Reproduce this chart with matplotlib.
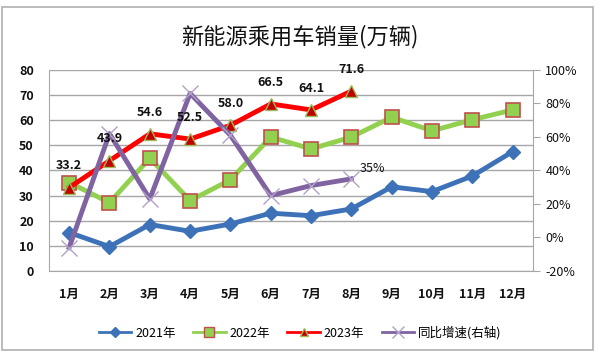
import matplotlib.pyplot as plt
from matplotlib.patches import Rectangle
from matplotlib.lines import Line2D
from matplotlib.ticker import FuncFormatter

plt.rcParams['font.family'] = ['Noto Sans CJK SC', 'DejaVu Sans']

# data
months = ['1月', '2月', '3月', '4月', '5月', '6月', '7月', '8月', '9月', '10月', '11月', '12月']
sales_2021 = [15.3, 9.7, 18.5, 15.8, 18.7, 23.0, 22.0, 24.7, 33.5, 31.6, 37.8, 47.5]
sales_2022 = [35.2, 27.2, 44.9, 28.0, 36.3, 53.3, 48.6, 53.3, 61.2, 55.8, 60.2, 64.1]
sales_2023 = [33.2, 43.9, 54.6, 52.5, 58.0, 66.5, 64.1, 71.6]
yoy = [-6, 62, 23, 86, 61, 25, 31, 35]

x = list(range(1, 13))
x23 = x[:len(sales_2023)]

fig = plt.figure(figsize=(6, 3.56), dpi=100)
fig.patches.append(Rectangle((0.004, 0.017), 0.985, 0.963, transform=fig.transFigure,
                             fill=False, edgecolor='#b0b0b0', linewidth=1.2))

ax1 = fig.add_axes([0.0817, 0.2388, 0.8063, 0.5646])
ax1.plot(x, sales_2021, color='#3d72b8', lw=3.5, marker='D', ms=7,
         mfc='#3d72b8', mec='#3d72b8', zorder=3)
ax1.plot(x, sales_2022, color='#92d050', lw=3.5, marker='s', ms=10,
         mfc='#92d050', mec='#c0504d', mew=1.2, zorder=3)
ax1.plot(x23, sales_2023, color='#ff0000', lw=3.5, marker='^', ms=9,
         mfc='#c00000', mec='#9bbb59', mew=1.0, zorder=4)

ax1.set_xlim(0.5, 12.5)
ax1.set_ylim(0, 80)
ax1.set_yticks(range(0, 81, 10))
ax1.set_xticks(x)
ax1.set_xticklabels(months)
ax1.grid(axis='y', color='#a6a6a6', lw=1.0)
ax1.set_axisbelow(True)
for s in ['top', 'right']:
    ax1.spines[s].set_visible(False)
for s in ['left', 'bottom']:
    ax1.spines[s].set_color('#a6a6a6')
ax1.tick_params(axis='y', length=0, labelsize=9, colors='#111111', pad=11)
ax1.tick_params(axis='x', length=0, labelsize=9, colors='#111111', pad=12)
for lab in ax1.get_xticklabels() + ax1.get_yticklabels():
    lab.set_fontweight('bold')

ax2 = ax1.twinx()
ax2.plot(x23, yoy, color='#8064a2', lw=3.5, marker='x', ms=12, mew=1.0,
         mec='#b3a2c7', zorder=5)
ax2.annotate(f'{yoy[-1]}%', (x23[-1], yoy[-1]), xytext=(6, 3), textcoords='offset points',
             ha='left', va='bottom', fontsize=9, color='#111111')
# 2023 labels drawn on top of everything
for xi, v in zip(x23, sales_2023):
    ax2.annotate(f'{v:.1f}', (xi, v), xycoords=ax1.transData, xytext=(0, 11),
                 textcoords='offset points', ha='center', va='bottom',
                 fontsize=9, fontweight='bold', color='#111111', zorder=6)
ax2.set_ylim(-20, 100)
ax2.set_yticks(range(-20, 101, 20))
ax2.yaxis.set_major_formatter(FuncFormatter(lambda v, p: f'{v:.0f}%'))
for s in ['top', 'left', 'bottom']:
    ax2.spines[s].set_visible(False)
ax2.spines['right'].set_color('#a6a6a6')
ax2.tick_params(axis='y', length=5, color='#a6a6a6', labelsize=9, colors='#111111', pad=4)
ax2.tick_params(axis='y', color='#a6a6a6')

fig.text(0.5, 0.898, '新能源乘用车销量(万辆)', ha='center', va='center', fontsize=16, color='#111111')

handles = [
    Line2D([], [], color='#3d72b8', lw=2, marker='D', ms=5, mfc='#3d72b8', mec='#3d72b8'),
    Line2D([], [], color='#92d050', lw=2, marker='s', ms=7, mfc='#92d050', mec='#c0504d'),
    Line2D([], [], color='#ff0000', lw=2, marker='^', ms=6, mfc='#c00000', mec='#9bbb59'),
    Line2D([], [], color='#8064a2', lw=2, marker='x', ms=8, mew=1.0, mec='#b3a2c7'),
]
labels = ['2021年', '2022年', '2023年', '同比增速(右轴)']
fig.legend(handles, labels, loc='center', bbox_to_anchor=(0.5, 0.065), ncol=4,
           frameon=False, fontsize=9, handlelength=2.6, columnspacing=1.4,
           handletextpad=0.3)

fig.savefig('out.png', dpi=100)
